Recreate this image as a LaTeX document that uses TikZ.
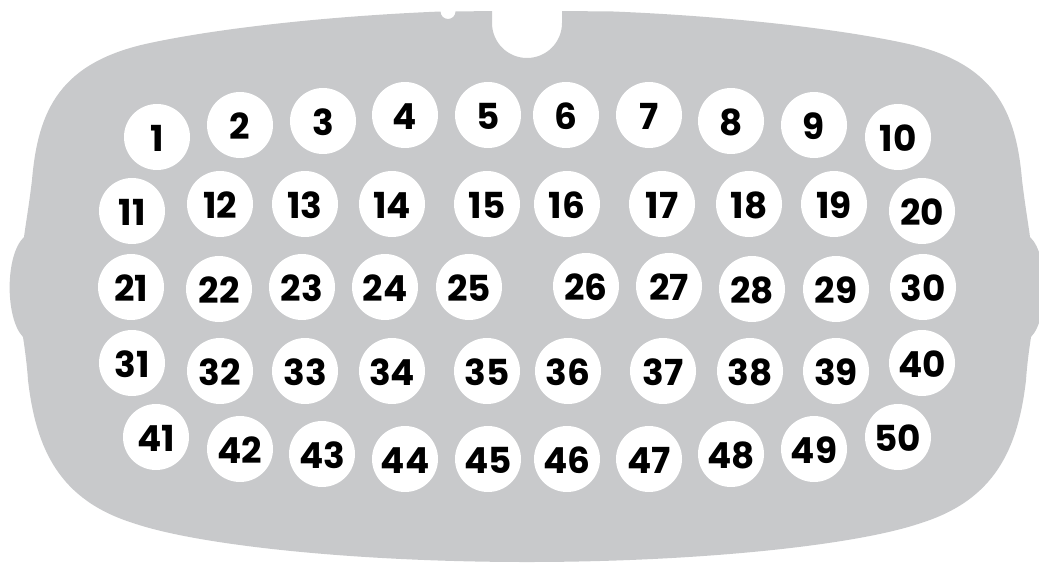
\documentclass[tikz,border=0pt]{standalone}
\usepackage{fontspec}
\setmainfont{Poppins}
\usepackage{tikz}
\usetikzlibrary{positioning}

\definecolor{plategray}{RGB}{200,201,203}

\begin{document}
\begin{tikzpicture}[
    x=0.25mm, y=-0.25mm,    % 1単位 = 1ピクセル（下向きが正）
    font=\fontsize{25.5pt}{30pt}\selectfont\bfseries,
    % 白い穴（番号付き）のスタイル
    hole/.style={circle, fill=white, minimum size=16.5mm, inner sep=0pt,
                 text height=7mm, text depth=0pt}
]

    % --- 0. 画像の範囲 ---
    \useasboundingbox (0,0) rectangle (1039,562);
    \clip (0,0) rectangle (1039,562);

    % --- 1. 灰色のプレート（外形） ---
    % 上辺の小さな切り欠きと中央の半円の切り欠きを含む
    \fill [plategray] (492,11) -- (455.5,11.5)
        arc [start angle=0, end angle=180, radius=7.5]
        .. controls (330,16) and (220,28) .. (150,43)
        .. controls (60,62) and (38,110) .. (32,180)
        .. controls (29,205) and (26,222) .. (24,237)
        % 左側のふくらみ
        .. controls (5,255) and (5,318) .. (23,337)
        .. controls (25,350) and (27,365) .. (28,380)
        .. controls (36,450) and (60,500) .. (133,523)
        .. controls (200,546) and (360,562) .. (527,562)
        .. controls (694,562) and (854,546) .. (921,523)
        .. controls (994,500) and (1018,450) .. (1026,380)
        .. controls (1027,365) and (1029,350) .. (1031,337)
        % 右側のふくらみ
        .. controls (1049,318) and (1049,255) .. (1030,237)
        .. controls (1028,222) and (1025,205) .. (1022,180)
        .. controls (1016,110) and (994,62) .. (904,43)
        .. controls (834,28) and (724,16) .. (613.5,11.5)
        -- (562,11) -- (562,23)
        arc [start angle=0, end angle=180, radius=35]
        -- cycle;

    % --- 2. 番号付きの穴 ---
    % [1段目]
    \node [hole] (h1)  at (157,137) {1};
    \node [hole] (h2)  at (240,125) {2};
    \node [hole] (h3)  at (323,121) {3};
    \node [hole] (h4)  at (405,115) {4};
    \node [hole] (h5)  at (488,115) {5};
    \node [hole] (h6)  at (566,115) {6};
    \node [hole] (h7)  at (649,115) {7};
    \node [hole] (h8)  at (731,121) {8};
    \node [hole] (h9)  at (814,125) {9};
    \node [hole] (h10) at (898,137) {10};

    % [2段目]
    \node [hole] (h11) at (132,211) {11};
    \node [hole] (h12) at (220,204) {12};
    \node [hole] (h13) at (305,204) {13};
    \node [hole] (h14) at (392,204) {14};
    \node [hole] (h15) at (487,204) {15};
    \node [hole] (h16) at (567,204) {16};
    \node [hole] (h17) at (662,204) {17};
    \node [hole] (h18) at (749,204) {18};
    \node [hole] (h19) at (834,204) {19};
    \node [hole] (h20) at (922,211) {20};

    % [3段目]
    \node [hole] (h21) at (131,287) {21};
    \node [hole] (h22) at (219,289) {22};
    \node [hole] (h23) at (302,287) {23};
    \node [hole] (h24) at (385,287) {24};
    \node [hole] (h25) at (469,287) {25};
    \node [hole] (h26) at (586,286) {26};
    \node [hole] (h27) at (669,286) {27};
    \node [hole] (h28) at (752,289) {28};
    \node [hole] (h29) at (836,289) {29};
    \node [hole] (h30) at (923,287) {30};

    % [4段目]
    \node [hole] (h31) at (132,363) {31};
    \node [hole] (h32) at (220,371) {32};
    \node [hole] (h33) at (305,371) {33};
    \node [hole] (h34) at (392,371) {34};
    \node [hole] (h35) at (487,371) {35};
    \node [hole] (h36) at (568,371) {36};
    \node [hole] (h37) at (663,371) {37};
    \node [hole] (h38) at (750,371) {38};
    \node [hole] (h39) at (836,371) {39};
    \node [hole] (h40) at (922,363) {40};

    % [5段目]
    \node [hole] (h41) at (156,437) {41};
    \node [hole] (h42) at (240,449) {42};
    \node [hole] (h43) at (322,454) {43};
    \node [hole] (h44) at (405,459) {44};
    \node [hole] (h45) at (488,459) {45};
    \node [hole] (h46) at (567,459) {46};
    \node [hole] (h47) at (649,459) {47};
    \node [hole] (h48) at (731,454) {48};
    \node [hole] (h49) at (814,449) {49};
    \node [hole] (h50) at (898,437) {50};

\end{tikzpicture}
\end{document}
